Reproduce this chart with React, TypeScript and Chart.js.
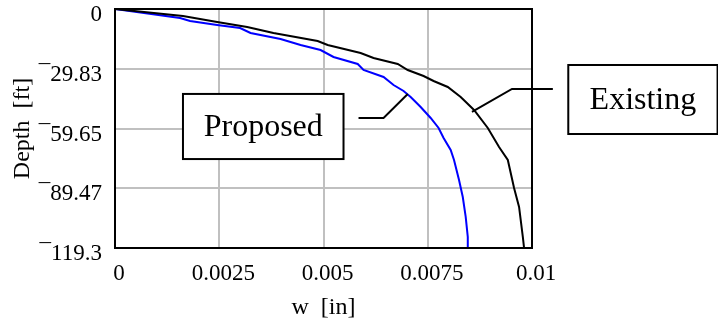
import React, { useEffect, useRef } from 'react';
import { Chart, registerables } from 'chart.js';

Chart.register(...registerables);

const existingW = [0, 0.00163, 0.00245, 0.00317, 0.0038, 0.00486, 0.0051, 0.00589, 0.0062, 0.00678, 0.00702, 0.0074, 0.00764, 0.00798, 0.00829, 0.00861, 0.00894, 0.00921, 0.00942, 0.00957, 0.00969, 0.00978, 0.00981];
const existingDepth = [0, -3.49, -6.49, -8.99, -11.98, -15.97, -17.97, -21.96, -24.46, -27.45, -30.45, -33.44, -35.94, -38.93, -43.93, -50.41, -59.4, -68.88, -75.37, -89.35, -98.83, -113.8, -119.3];

const proposedW = [0, 0.00156, 0.0018, 0.00245, 0.003, 0.00325, 0.00397, 0.00445, 0.00493, 0.00524, 0.00582, 0.00596, 0.00644, 0.00668, 0.00692, 0.00709, 0.00733, 0.00757, 0.00776, 0.00788, 0.00805, 0.00813, 0.00825, 0.00834, 0.00841, 0.00846, 0.00846];
const proposedDepth = [0, -4.49, -5.99, -7.99, -9.48, -11.98, -14.97, -17.97, -20.47, -23.96, -27.45, -30.45, -33.94, -37.94, -40.93, -43.93, -48.92, -54.41, -59.4, -64.39, -70.38, -75.37, -85.35, -93.84, -103.8, -113.8, -119.3];

const xTickValues = [0, 0.0025, 0.005, 0.0075, 0.01];
const xTickLabels = ['0', '0.0025', '0.005', '0.0075', '0.01'];
const yTickValues = [0, -29.825, -59.65, -89.475, -119.3];
const yTickLabels = ['0', '\u00AF29.83', '\u00AF59.65', '\u00AF89.47', '\u00AF119.3'];

const seriesNames = ['Existing', 'Proposed'];
const seriesColors = ['#000000', '#0000ff'];

// annotation boxes & leaders, in data units
const boxX = [[0.01087, 0.01445], [0.00163, 0.00548]];
const boxY = [[-27.95, -62.4], [-42.4, -74.9]];
const leaderX = [[0.0105, 0.00952, 0.00856], [0.00584, 0.00644, 0.00702]];
const leaderY = [[-39.9, -39.9, -51.4], [-54.4, -54.4, -42.4]];

const FONT = "'Liberation Serif', 'Times New Roman', serif";

const decorPlugin = {
  id: 'decor',
  afterDraw(chart: any) {
    const { ctx, chartArea, scales } = chart;
    const xs = scales.x;
    const ys = scales.y;
    ctx.save();
    ctx.strokeStyle = '#000';
    ctx.lineWidth = 2;
    ctx.strokeRect(chartArea.left, chartArea.top, chartArea.right - chartArea.left, chartArea.bottom - chartArea.top);
    for (let i = 0; i < seriesNames.length; i++) {
      ctx.beginPath();
      for (let j = 0; j < leaderX[i].length; j++) {
        const px = xs.getPixelForValue(leaderX[i][j]);
        const py = ys.getPixelForValue(leaderY[i][j]);
        if (j === 0) ctx.moveTo(px, py);
        else ctx.lineTo(px, py);
      }
      ctx.stroke();
      const x0 = xs.getPixelForValue(boxX[i][0]);
      const x1 = xs.getPixelForValue(boxX[i][1]);
      const y0 = ys.getPixelForValue(boxY[i][0]);
      const y1 = ys.getPixelForValue(boxY[i][1]);
      ctx.fillStyle = '#fff';
      ctx.fillRect(x0, y0, x1 - x0, y1 - y0);
      ctx.strokeRect(x0, y0, x1 - x0, y1 - y0);
      ctx.fillStyle = '#000';
      ctx.font = `32px ${FONT}`;
      ctx.textAlign = 'center';
      ctx.textBaseline = 'middle';
      ctx.fillText(seriesNames[i], (x0 + x1) / 2, (y0 + y1) / 2 + 1);
    }
    ctx.restore();
  },
};

export default function App() {
  const ref = useRef<HTMLCanvasElement>(null);
  useEffect(() => {
    if (!ref.current) return;
    const mk = (w: number[], d: number[]) => w.map((v, i) => ({ x: v, y: d[i] }));
    const chart = new Chart(ref.current, {
      type: 'scatter',
      data: {
        datasets: [
          { label: seriesNames[0], data: mk(existingW, existingDepth), showLine: true, borderColor: seriesColors[0], borderWidth: 2, pointRadius: 0, tension: 0 },
          { label: seriesNames[1], data: mk(proposedW, proposedDepth), showLine: true, borderColor: seriesColors[1], borderWidth: 2, pointRadius: 0, tension: 0 },
        ],
      },
      options: {
        animation: false,
        responsive: false,
        maintainAspectRatio: false,
        layout: { padding: { top: 9, right: 186, left: 0, bottom: 0 } },
        plugins: { legend: { display: false }, tooltip: { enabled: false } },
        scales: {
          x: {
            type: 'linear',
            min: 0,
            max: 0.01,
            afterBuildTicks: (s: any) => { s.ticks = xTickValues.map((v) => ({ value: v })); },
            afterFit: (s: any) => { s.height = 74; s.paddingLeft = 0; s.paddingRight = 0; },
            grid: { color: '#c0c0c0', lineWidth: 2, drawTicks: false },
            border: { display: false },
            ticks: {
              color: '#000',
              font: { family: FONT, size: 23 },
              padding: 12,
              labelOffset: 4,
              maxRotation: 0,
              autoSkip: false,
              callback: (v: any) => { const k = xTickValues.indexOf(v); return k >= 0 ? xTickLabels[k] : ''; },
            },
            title: { display: true, text: 'w  [in]', color: '#000', font: { family: FONT, size: 24 }, padding: { top: 0, bottom: 0 } },
          },
          y: {
            type: 'linear',
            min: -119.3,
            max: 0,
            afterBuildTicks: (s: any) => { s.ticks = yTickValues.map((v) => ({ value: v })); },
            afterFit: (s: any) => { s.width = 115; s.paddingTop = 0; s.paddingBottom = 0; },
            grid: { color: '#c0c0c0', lineWidth: 2, drawTicks: false },
            border: { display: false },
            ticks: {
              color: '#000',
              font: { family: FONT, size: 23 },
              padding: 13,
              labelOffset: 6,
              autoSkip: false,
              callback: (v: any) => { const k = yTickValues.indexOf(v); return k >= 0 ? yTickLabels[k] : ''; },
            },
            title: { display: true, text: 'Depth  [ft]', color: '#000', font: { family: FONT, size: 24 }, padding: { top: 8, bottom: 0 } },
          },
        },
      },
      plugins: [decorPlugin],
    });
    return () => chart.destroy();
  }, []);
  return (
    <div style={{ position: 'fixed', left: 0, top: 0, width: 718, height: 322, background: '#fff' }}>
      <canvas ref={ref} width={718} height={322} style={{ width: 718, height: 322 }} />
    </div>
  );
}
